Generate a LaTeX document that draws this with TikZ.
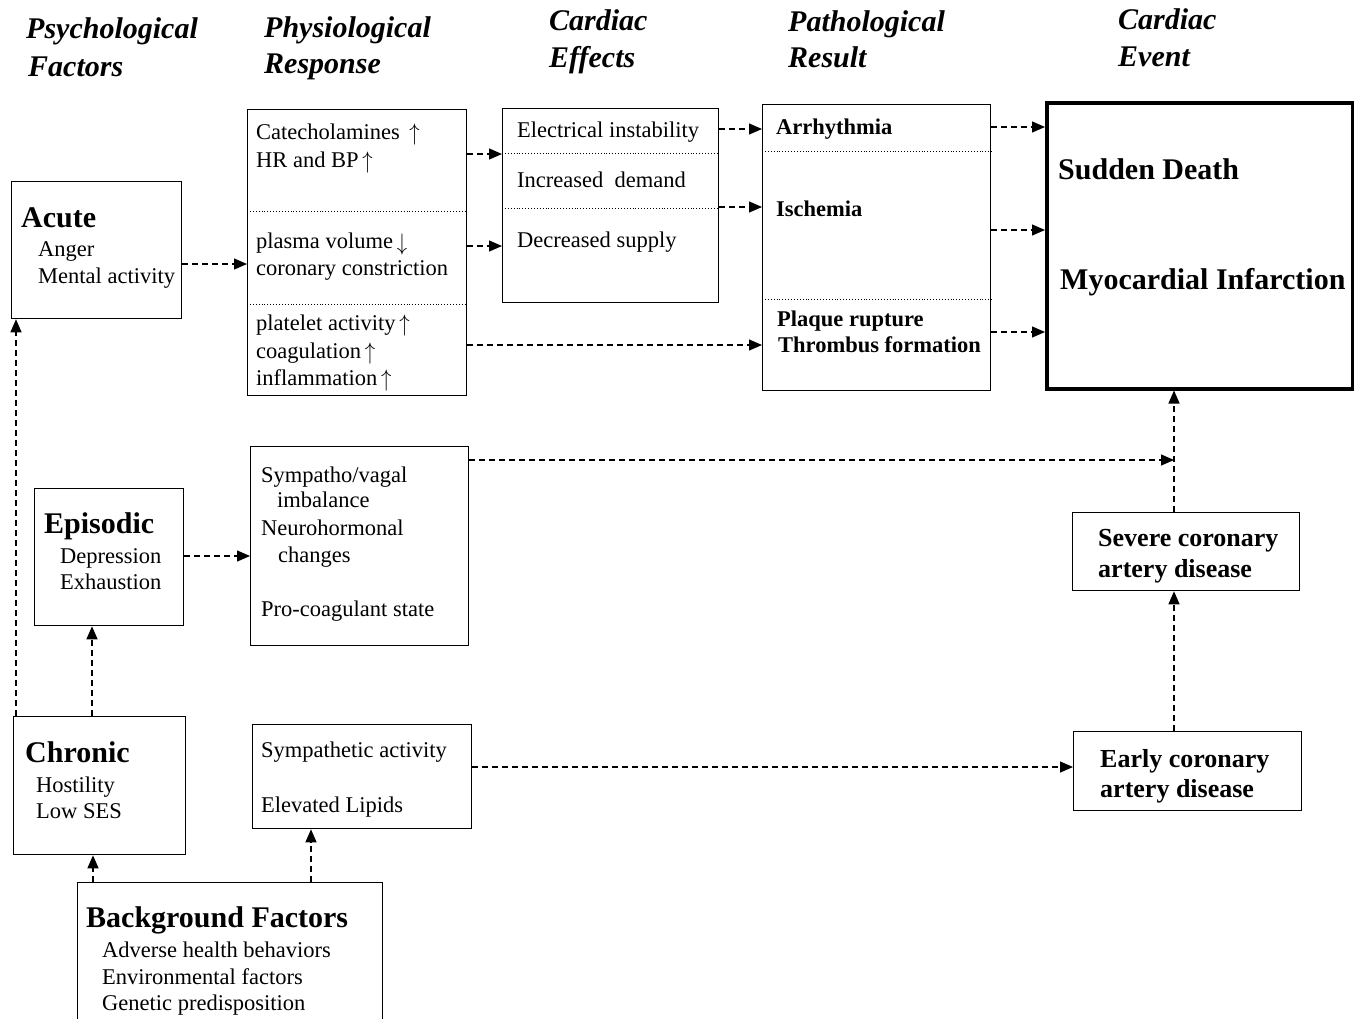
\documentclass[tikz,border=0pt]{standalone}
\usepackage{fontspec}
\setmainfont{Liberation Serif}
\usetikzlibrary{arrows.meta,calc}
\newcommand{\myup}{\,\smash{\raisebox{-1pt}{\scalebox{1}[1.15]{$\uparrow$}}}}
\newcommand{\mydown}{\,\smash{\raisebox{-2pt}{\scalebox{1}[1.15]{$\downarrow$}}}}
\begin{document}
\begin{tikzpicture}[x=1pt,y=-1pt,
  box/.style={draw, line width=1.3pt, inner sep=0pt, anchor=north west},
  txt/.style={anchor=base west, inner sep=0pt, font=\fontsize{22.5}{27}\selectfont},
  btxt/.style={anchor=base west, inner sep=0pt, font=\fontsize{22.5}{27}\selectfont\bfseries},
  mtxt/.style={anchor=base west, inner sep=0pt, font=\fontsize{26}{30}\selectfont\bfseries},
  bigtxt/.style={anchor=base west, inner sep=0pt, font=\fontsize{30}{34}\selectfont\bfseries},
  hdr/.style={anchor=base west, inner sep=0pt, font=\fontsize{30}{34}\selectfont\bfseries\itshape},
  sepline/.style={dotted, line width=0.9pt},
  arr/.style={dash pattern=on 6pt off 4pt, line width=1.3pt, -{Triangle[length=13pt,width=11pt]}}
]
\useasboundingbox (0,0) rectangle (1354,1018);
\fill[white] (0,0) rectangle (1354,1018);

% headers
\node[hdr] (hpsy1) at (26,38) {Psychological};
\node[hdr] (hpsy2) at (28,76) {Factors};
\node[hdr] (hphy1) at (264,37) {Physiological};
\node[hdr] (hphy2) at (264,73) {Response};
\node[hdr] (hce1) at (549,30) {Cardiac};
\node[hdr] (hce2) at (549,67) {Effects};
\node[hdr] (hpat1) at (788,31) {Pathological};
\node[hdr] (hpat2) at (788,67) {Result};
\node[hdr] (hev1) at (1118,29) {Cardiac};
\node[hdr] (hev2) at (1118,66) {Event};

% boxes
\node[box, minimum width=170pt, minimum height=137pt] (acute) at (11,181) {};
\node[box, minimum width=219pt, minimum height=286pt] (phys1) at (247,109) {};
\node[box, minimum width=216pt, minimum height=194pt] (ce) at (502,108) {};
\node[box, minimum width=228pt, minimum height=286pt] (patho) at (762,104) {};
\node[box, line width=3.5pt, minimum width=306pt, minimum height=286pt] (event) at (1045,101) {};
\node[box, minimum width=149pt, minimum height=137pt] (episodic) at (34,488) {};
\node[box, minimum width=218pt, minimum height=199pt] (phys2) at (250,446) {};
\node[box, minimum width=172pt, minimum height=138pt] (chronic) at (13,716) {};
\node[box, minimum width=219pt, minimum height=104pt] (phys3) at (252,724) {};
\node[box, minimum width=305pt, minimum height=150pt] (bg) at (77,882) {};
\node[box, minimum width=227pt, minimum height=78pt] (severe) at (1072,512) {};
\node[box, minimum width=228pt, minimum height=79pt] (early) at (1073,731) {};

% separators
\draw[sepline] (phys1.west |- 0,211) -- (phys1.east |- 0,211);
\draw[sepline] (phys1.west |- 0,304) -- (phys1.east |- 0,304);
\draw[sepline] (ce.west |- 0,153) -- (ce.east |- 0,153);
\draw[sepline] (ce.west |- 0,208) -- (ce.east |- 0,208);
\draw[sepline] (patho.west |- 0,151) -- (patho.east |- 0,151);
\draw[sepline] (patho.west |- 0,299) -- (patho.east |- 0,299);

% texts
\node[bigtxt] (tacute) at (21,227) {Acute};
\node[txt] (tanger) at (38,256) {Anger};
\node[txt] (tmental) at (38,283) {Mental activity};

\node[txt] (tcat) at (256,139) {Catecholamines \myup};
\node[txt] (thr) at (256,167) {HR and BP\myup};
\node[txt] (tplasma) at (256,248) {plasma volume\mydown};
\node[txt] (tcor) at (256,275) {coronary constriction};
\node[txt] (tplate) at (256,330) {platelet activity\myup};
\node[txt] (tcoag) at (256,358) {coagulation\myup};
\node[txt] (tinfl) at (256,385) {inflammation\myup};

\node[txt] (telec) at (517,137) {Electrical instability};
\node[txt] (tinc) at (517,187) {Increased~ demand};
\node[txt] (tdec) at (517,247) {Decreased supply};

\node[btxt] (tarr) at (776,134) {Arrhythmia};
\node[btxt] (tisch) at (776,216) {Ischemia};
\node[btxt] (tplaque) at (777,326) {Plaque rupture};
\node[btxt] (tthromb) at (778,352) {Thrombus formation};

\node[bigtxt] (tsudden) at (1058,179) {Sudden Death};
\node[bigtxt] (tmyo) at (1060,289) {Myocardial Infarction};

\node[bigtxt] (tepi) at (44,533) {Episodic};
\node[txt] (tdep) at (60,563) {Depression};
\node[txt] (texh) at (60,589) {Exhaustion};

\node[txt] (tsym) at (261,482) {Sympatho/vagal};
\node[txt] (timb) at (277,507) {imbalance};
\node[txt] (tneu) at (261,535) {Neurohormonal};
\node[txt] (tcha) at (278,562) {changes};
\node[txt] (tpro) at (261,616) {Pro-coagulant state};

\node[bigtxt] (tchr) at (25,762) {Chronic};
\node[txt] (thos) at (36,792) {Hostility};
\node[txt] (tses) at (36,818) {Low SES};

\node[txt] (tsympa) at (261,757) {Sympathetic activity};
\node[txt] (tlip) at (261,812) {Elevated Lipids};

\node[bigtxt] (tbg) at (86,927) {Background Factors};
\node[txt] (tadv) at (102,957) {Adverse health behaviors};
\node[txt] (tenv) at (102,984) {Environmental factors};
\node[txt] (tgen) at (102,1010) {Genetic predisposition};

\node[mtxt] (tsev1) at (1098,546) {Severe coronary};
\node[mtxt] (tsev2) at (1098,577) {artery disease};
\node[mtxt] (tear1) at (1100,767) {Early coronary};
\node[mtxt] (tear2) at (1100,797) {artery disease};

% connectors
\coordinate (colx) at (1174,460);
\draw[arr] (acute.east |- 0,264) -- (phys1.west |- 0,264);
\draw[arr] (phys1.east |- 0,154) -- (ce.west |- 0,154);
\draw[arr] (phys1.east |- 0,246) -- (ce.west |- 0,246);
\draw[arr] (phys1.east |- 0,345) -- (patho.west |- 0,345);
\draw[arr] (ce.east |- 0,129) -- (patho.west |- 0,129);
\draw[arr] (ce.east |- 0,207) -- (patho.west |- 0,207);
\draw[arr] (patho.east |- 0,127) -- (event.west |- 0,127);
\draw[arr] (patho.east |- 0,230) -- (event.west |- 0,230);
\draw[arr] (patho.east |- 0,332) -- (event.west |- 0,332);
\draw[arr] (phys2.east |- colx) -- (colx);
\draw[arr] (severe.north -| colx) -- (event.south -| colx);
\draw[arr] (early.north -| colx) -- (severe.south -| colx);
\draw[arr] (phys3.east |- 0,767) -- (early.west |- 0,767);
\draw[arr] (episodic.east |- 0,556) -- (phys2.west |- 0,556);
\draw[arr] (chronic.north -| 92,0) -- (episodic.south -| 92,0);
\draw[arr] (chronic.north -| 16,0) -- (acute.south -| 16,0);
\draw[arr] (bg.north -| 93,0) -- (chronic.south -| 93,0);
\draw[arr] (bg.north -| 311,0) -- (phys3.south -| 311,0);
\end{tikzpicture}
\end{document}
